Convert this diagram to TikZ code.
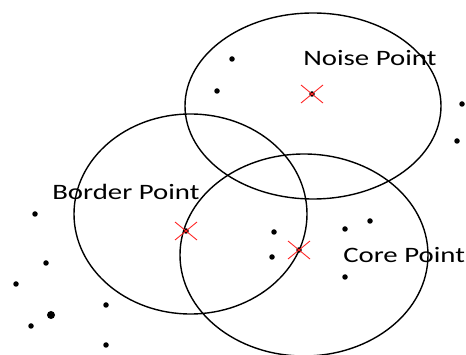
\documentclass[tikz,border=0pt]{standalone}
\usepackage{fontspec}
\setmainfont{Carlito}
\usetikzlibrary{calc}
\begin{document}
\begin{tikzpicture}[x=1pt,y=-1pt,
  ring/.style={draw=black,line width=1.4pt},
  dot/.style={circle,fill=black,inner sep=0pt,minimum size=5.5pt},
  bigdot/.style={circle,fill=black,inner sep=0pt,minimum size=8pt},
  cross/.style={draw=red!85,line width=0.9pt},
  lbl/.style={font=\fontsize{22}{22}\selectfont,text=black,inner sep=0pt,xscale=1.31}]
\useasboundingbox (0,0) rectangle (466,355);
\begin{scope}
\clip (0,0) rectangle (466,355);
\draw[ring] (313,106) ellipse [x radius=128, y radius=93];
\draw[ring] (190.5,214) ellipse [x radius=116.5, y radius=100];
\draw[ring] (304,255) ellipse [x radius=124, y radius=101];
\end{scope}
% cluster centres
\node[dot] (noise) at (312,94) {};
\node[dot] (border) at (186,231) {};
\node[dot] (core) at (299,250) {};
\foreach \c in {noise,border,core}{
  \draw[cross] ($(\c)+(-11,-9)$) -- ($(\c)+(11,9)$);
  \draw[cross] ($(\c)+(11,-9)$) -- ($(\c)+(-11,9)$);
}
% other points
\node[dot] (p1) at (232,59) {};
\node[dot] (p2) at (217,91) {};
\node[dot] (p3) at (462,104) {};
\node[dot] (p4) at (457,141) {};
\node[dot] (p5) at (35,214) {};
\node[dot] (p6) at (46,263) {};
\node[dot] (p7) at (16,284) {};
\node[dot] (p8) at (106,305) {};
\node[bigdot] (p9) at (51,315) {};
\node[dot] (p10) at (31,326) {};
\node[dot] (p11) at (106,345) {};
\node[dot] (p12) at (274,232) {};
\node[dot] (p13) at (272,257) {};
\node[dot] (p14) at (345,229) {};
\node[dot] (p15) at (370,221) {};
\node[dot] (p16) at (345,277) {};
% labels
\node[lbl,anchor=west] (ln) at (303,58) {Noise Point};
\node[lbl,anchor=west] (lb) at (52,192) {Border Point};
\node[lbl,anchor=west] (lc) at (343,255) {Core Point};
\end{tikzpicture}
\end{document}
